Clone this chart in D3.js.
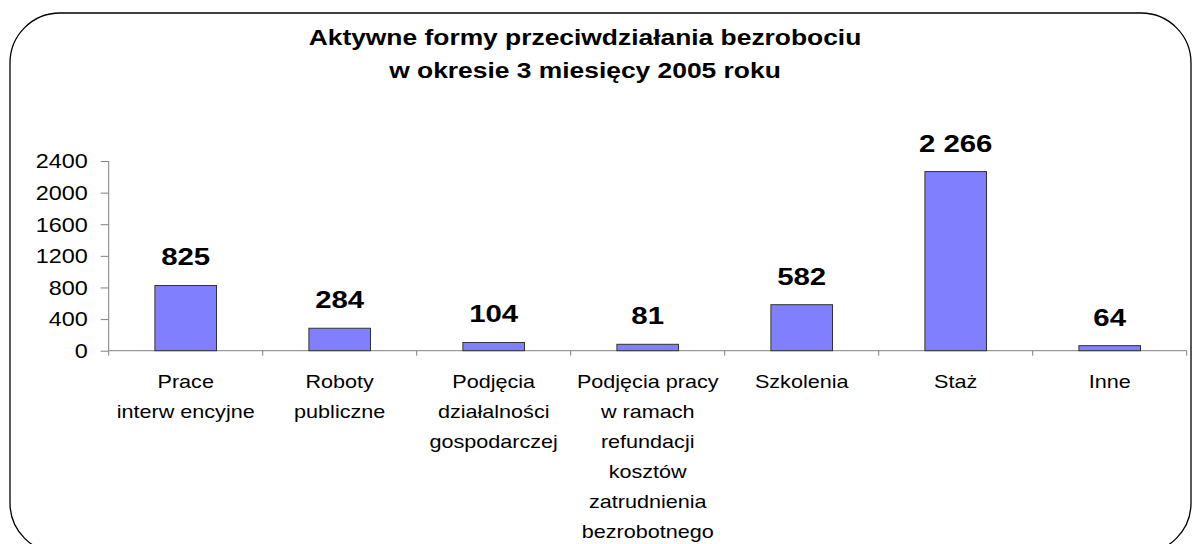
<!DOCTYPE html>
<html>
<head>
<meta charset="utf-8">
<script src="https://cdn.jsdelivr.net/npm/d3@7"></script>
<style>
  body { margin: 0; background: #fff; }
  svg { display: block; font-family: "Liberation Sans", Arial, sans-serif; }
</style>
</head>
<body>
<div id="chart"></div>
<script>
// data
const categories = [
  ["Prace", "interw encyjne"],
  ["Roboty", "publiczne"],
  ["Podjęcia", "działalności", "gospodarczej"],
  ["Podjęcia pracy", "w  ramach", "refundacji", "kosztów", "zatrudnienia", "bezrobotnego"],
  ["Szkolenia"],
  ["Staż"],
  ["Inne"]
];
const values = [825, 284, 104, 81, 582, 2266, 64];
const yTicks = [0, 400, 800, 1200, 1600, 2000, 2400];
const titleLines = ["Aktywne formy przeciwdziałania bezrobociu", "w okresie 3 miesięcy 2005 roku"];

const W = 1192, H = 544;
const sx = 1.2; // source picture is stretched horizontally
const margin = { top: 161, left: 108.7, right: 5.3, bottom: 193.3 };
const innerW = W - margin.left - margin.right;
const innerH = H - margin.top - margin.bottom;

const svg = d3.select("#chart").append("svg")
  .attr("width", W).attr("height", H);

// rounded frame
svg.append("rect")
  .attr("x", 10).attr("y", 13)
  .attr("width", 1181).attr("height", 540)
  .attr("rx", 50).attr("ry", 50)
  .attr("fill", "none").attr("stroke", "#000").attr("stroke-width", 1.3);

// title
const title = svg.append("g");
titleLines.forEach((t, i) => {
  title.append("text")
    .attr("transform", `translate(585,${45 + i * 33}) scale(${sx},1)`)
    .attr("text-anchor", "middle")
    .attr("font-weight", "bold")
    .attr("font-size", 22)
    .text(t);
});

const g = svg.append("g")
  .attr("transform", `translate(${margin.left},${margin.top})`);

const idx = d3.range(values.length);
const xOuter = d3.scaleBand().domain(idx).range([0, innerW]).padding(0);
const x = d3.scaleBand().domain(idx).range([0, innerW]).paddingInner(0.6).paddingOuter(0.3);
const y = d3.scaleLinear().domain([0, 2400]).range([innerH, 0]);

// y axis
const yAxis = g.append("g")
  .call(d3.axisLeft(y).tickValues(yTicks).tickSize(8).tickFormat(d3.format("d")));
yAxis.select(".domain").attr("stroke", "#808080").attr("d", `M0,0V${innerH}`);
yAxis.selectAll(".tick line").attr("stroke", "#808080");
yAxis.selectAll(".tick text")
  .attr("x", 0)
  .attr("transform", `translate(-21,0) scale(${sx},1)`)
  .attr("dy", "0.35em")
  .attr("font-size", 19.5)
  .attr("fill", "#000");

// x axis with ticks on category boundaries
g.append("line")
  .attr("x1", 0).attr("x2", innerW)
  .attr("y1", innerH).attr("y2", innerH)
  .attr("stroke", "#808080");
g.selectAll(".xtick")
  .data(idx.concat([idx.length]))
  .enter().append("line")
  .attr("class", "xtick")
  .attr("x1", d => d * xOuter.step()).attr("x2", d => d * xOuter.step())
  .attr("y1", innerH).attr("y2", innerH + 5)
  .attr("stroke", "#808080");

// bars
g.selectAll(".bar")
  .data(values)
  .enter().append("rect")
  .attr("class", "bar")
  .attr("x", (d, i) => x(i))
  .attr("y", d => y(d))
  .attr("width", x.bandwidth())
  .attr("height", d => innerH - y(d))
  .attr("fill", "#8080ff")
  .attr("stroke", "#333")
  .attr("stroke-width", 1);

// value labels
const fmt = d3.formatLocale({ decimal: ",", thousands: " ", grouping: [3], currency: ["", ""] }).format(",d");
g.selectAll(".val")
  .data(values)
  .enter().append("text")
  .attr("class", "val")
  .attr("transform", (d, i) => `translate(${x(i) + x.bandwidth() / 2},${y(d) - 20}) scale(${sx},1)`)
  .attr("text-anchor", "middle")
  .attr("font-weight", "bold")
  .attr("font-size", 24.5)
  .text(d => fmt(d));

// category labels
categories.forEach((lines, i) => {
  lines.forEach((t, j) => {
    g.append("text")
      .attr("transform", `translate(${xOuter(i) + xOuter.bandwidth() / 2},${innerH + 37 + j * 30}) scale(${sx},1)`)
      .attr("text-anchor", "middle")
      .attr("font-size", 18)
      .text(t);
  });
});
</script>
</body>
</html>
